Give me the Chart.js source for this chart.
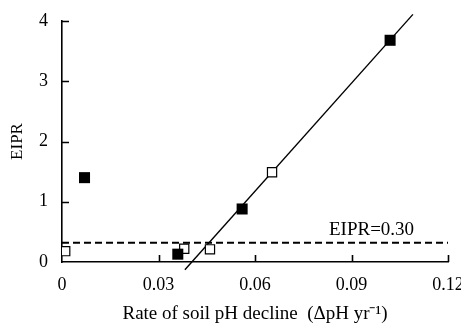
<!DOCTYPE html>
<html>
<head>
<meta charset="utf-8">
<script src="https://cdn.jsdelivr.net/npm/chart.js@4"></script>
<style>
  html, body { margin: 0; padding: 0; background: #fff; }
  #wrap { width: 461px; height: 327px; }
</style>
</head>
<body>
<div id="wrap"><canvas id="myChart" width="461" height="327"></canvas></div>
<script>
// datos
var filled_x = [0.007, 0.036, 0.056, 0.102];
var filled_y = [1.40, 0.13, 0.88, 3.68];
var open_x = [0.001, 0.038, 0.046, 0.0653];
var open_y = [0.18, 0.22, 0.21, 1.49];
var fit_x = [0.0382, 0.1091];
var fit_y = [-0.13, 4.11];
var umbral_x = [0, 0.12];
var umbral_y = [0.32, 0.32];
var x_ticks = [0, 0.03, 0.06, 0.09, 0.12];
var y_ticks = [0, 1, 2, 3, 4];
var umbral_texto = 'EIPR=0.30';

var fuente = 'Liberation Serif, Times New Roman, serif';

function puntos(xs, ys) {
  return xs.map(function (x, i) { return { x: x, y: ys[i] }; });
}

// marcas de eje hacia dentro + texto del umbral
var marcas_plugin = {
  id: 'marcas',
  afterDraw: function (chart) {
    var ctx = chart.ctx;
    var sx = chart.scales.x, sy = chart.scales.y;
    ctx.save();
    ctx.strokeStyle = '#000';
    ctx.lineWidth = 1.6;
    ctx.beginPath();
    y_ticks.forEach(function (v) {
      if (v == 0) return;
      var py = Math.round(sy.getPixelForValue(v)) + 0.5;
      ctx.moveTo(sx.left, py);
      ctx.lineTo(sx.left + 7, py);
    });
    x_ticks.forEach(function (v) {
      if (v == 0) return;
      var px = Math.round(sx.getPixelForValue(v)) + 0.5;
      ctx.moveTo(px, sy.bottom);
      ctx.lineTo(px, sy.bottom - 7);
    });
    ctx.stroke();

    ctx.fillStyle = '#000';
    ctx.font = '19px ' + fuente;
    ctx.textAlign = 'left';
    ctx.textBaseline = 'middle';
    ctx.fillText(umbral_texto, sx.getPixelForValue(0.083), sy.getPixelForValue(umbral_y[0]) - 13);
    ctx.restore();
  }
};

var chart_div = document.getElementById('myChart');

var chart = new Chart(chart_div, {
  type: 'scatter',
  data: {
    datasets: [
      {
        label: 'umbral',
        type: 'line',
        data: puntos(umbral_x, umbral_y),
        borderColor: '#000',
        borderWidth: 2,
        borderDash: [7, 4],
        pointRadius: 0,
        fill: false,
        order: 4
      },
      {
        label: 'ajuste',
        type: 'line',
        data: puntos(fit_x, fit_y),
        borderColor: '#000',
        borderWidth: 1.4,
        pointRadius: 0,
        fill: false,
        clip: false,
        order: 3
      },
      {
        label: 'abiertos',
        data: puntos(open_x, open_y),
        pointStyle: 'rect',
        pointRadius: 6.5,
        backgroundColor: '#fff',
        borderColor: '#000',
        borderWidth: 1.2,
        order: 2
      },
      {
        label: 'llenos',
        data: puntos(filled_x, filled_y),
        pointStyle: 'rect',
        pointRadius: 7.8,
        backgroundColor: '#000',
        borderColor: '#000',
        borderWidth: 0,
        order: 1
      }
    ]
  },
  options: {
    responsive: false,
    animation: false,
    layout: { padding: { left: 0, right: 13, top: 21, bottom: 0 } },
    plugins: {
      legend: { display: false },
      tooltip: { enabled: false }
    },
    scales: {
      x: {
        type: 'linear',
        min: 0,
        max: 0.12,
        afterBuildTicks: function (s) { s.ticks = x_ticks.map(function (v) { return { value: v }; }); },
        afterFit: function (s) { s.height = 65; s.paddingLeft = 0; s.paddingRight = 0; },
        grid: { display: false, drawTicks: false },
        border: { display: true, color: '#000', width: 1.6 },
        ticks: {
          color: '#000',
          padding: 12,
          maxRotation: 0,
          font: { family: fuente, size: 18 },
          callback: function (v) { return v == 0 ? '0' : v.toFixed(2); }
        },
        title: {
          display: true,
          text: 'Rate of soil pH decline  (\u0394pH yr\u207B\u00B9)',
          color: '#000',
          font: { family: fuente, size: 19 },
          padding: { top: 0, bottom: 1.5 }
        }
      },
      y: {
        type: 'linear',
        min: 0,
        max: 4,
        afterBuildTicks: function (s) { s.ticks = y_ticks.map(function (v) { return { value: v }; }); },
        afterFit: function (s) { s.width = 62; s.paddingTop = 0; s.paddingBottom = 0; },
        grid: { display: false, drawTicks: false },
        border: { display: true, color: '#000', width: 1.6 },
        ticks: {
          color: '#000',
          padding: 14,
          font: { family: fuente, size: 18 }
        },
        title: {
          display: true,
          text: 'EIPR',
          color: '#000',
          font: { family: fuente, size: 17 },
          padding: { top: 7, bottom: 0 }
        }
      }
    }
  },
  plugins: [marcas_plugin]
});
</script>
</body>
</html>
